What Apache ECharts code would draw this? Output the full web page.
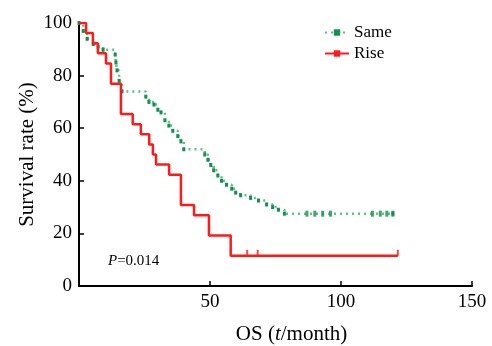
<!DOCTYPE html>
<html>
<head>
<meta charset="utf-8">
<script src="https://cdn.jsdelivr.net/npm/echarts@6/dist/echarts.min.js"></script>
<style>html,body{margin:0;padding:0;background:#fff}#c{width:492px;height:346px}</style>
</head>
<body>
<div id="c"></div>
<script>
// Kaplan-Meier step points: [time (months), survival (%)]
var sameTimes = [0, 1.6, 3.1, 5.4, 7.3, 9.2, 13.8, 14.1, 14.5, 15.3, 16.4, 25.5, 26.7, 28.6, 30.1, 31.3, 32.8, 34.3, 35.8, 37.7, 38.9, 40, 48, 49.2, 50.3, 51.4, 53, 54.4, 56.3, 58.3, 59.8, 61.7, 65.5, 68.5, 71.6, 73.9, 76.1, 78.4, 119.8];
var sameSurv  = [100, 97, 94, 92, 91, 89.8, 88, 85, 82, 78, 74, 72, 70, 69, 67, 66, 63, 61, 59, 57, 55, 52, 50, 48, 46, 44, 42, 40, 38.5, 37, 35.5, 34.5, 33.5, 32.5, 31, 30, 29, 27.5, 27.5];
var sameCensorTimes = [87, 90, 93, 96, 112, 115, 117.5, 119.8];
var sameCensorSurv  = [27.5, 27.5, 27.5, 27.5, 27.5, 27.5, 27.5, 27.5];

var riseTimes = [0, 2.7, 5.3, 7.2, 10.3, 12.2, 16, 20.5, 23.6, 26.8, 28.2, 29.4, 34.4, 38.9, 43.9, 49.6, 57.9, 121.7];
var riseSurv  = [100, 96.2, 92.3, 88.5, 84.6, 76.9, 65.4, 61.5, 57.7, 53.8, 50, 46.2, 42.3, 30.8, 26.9, 19.2, 11.5, 11.5];
var riseCensorTimes = [64.2, 68.2, 121.7];
var riseCensorSurv  = [11.5, 11.5, 11.5];

var xTicks = [0, 50, 100, 150];
var yTicks = [0, 20, 40, 60, 80, 100];
var seriesNames = ['Same', 'Rise'];
var pText = '0.014';

function zip(a, b) { return a.map(function (v, i) { return [v, b[i]]; }); }

var FONT = 'Liberation Serif';
var chart = echarts.init(document.getElementById('c'), null, {renderer: 'canvas'});
chart.setOption({
  animation: false,
  backgroundColor: '#fff',
  textStyle: {fontFamily: FONT, color: '#000'},
  grid: {left: 79, right: 20, top: 23, bottom: 60, outerBoundsMode: 'none', containLabel: false},
  legend: {
    orient: 'vertical', left: 319, top: 19, itemWidth: 24, itemHeight: 8, itemGap: 4,
    data: seriesNames,
    textStyle: {fontFamily: FONT, fontSize: 17, color: '#000'}
  },
  xAxis: {
    type: 'value', min: xTicks[0], max: xTicks[xTicks.length - 1], interval: 50,
    name: 'OS ({i|t}/month)', nameLocation: 'middle', nameGap: 38, nameMoveOverlap: false,
    nameTextStyle: {fontFamily: FONT, fontSize: 21, color: '#000', padding: [0, 0, 0, 32],
      rich: {i: {fontFamily: FONT, fontStyle: 'italic', fontSize: 21, color: '#000'}}},
    axisLine: {lineStyle: {color: '#000', width: 2}},
    axisTick: {inside: true, length: 5, lineStyle: {color: '#000', width: 1.5}},
    axisLabel: {margin: 7, fontFamily: FONT, fontSize: 19, color: '#000',
      formatter: function (v) { return v === 0 ? '' : String(v); }},
    splitLine: {show: false}
  },
  yAxis: {
    type: 'value', min: yTicks[0], max: yTicks[yTicks.length - 1], interval: 20,
    name: 'Survival rate (%)', nameLocation: 'middle', nameGap: 41, nameMoveOverlap: false,
    nameTextStyle: {fontFamily: FONT, fontSize: 21, color: '#000'},
    axisLine: {show: true, lineStyle: {color: '#000', width: 2}},
    axisTick: {show: true, inside: true, length: 5, lineStyle: {color: '#000', width: 1.5}},
    axisLabel: {margin: 7, fontFamily: FONT, fontSize: 19, color: '#000'},
    splitLine: {show: false}
  },
  series: [
    {
      name: seriesNames[0], type: 'line', step: 'end', data: zip(sameTimes, sameSurv),
      symbol: 'rect', symbolSize: [3, 4], showSymbol: true, showAllSymbol: true,
      itemStyle: {color: '#139050'},
      lineStyle: {color: '#5cbf89', width: 2.5, type: [2, 4]},
      z: 3
    },
    {
      name: seriesNames[1], type: 'line', step: 'end', data: zip(riseTimes, riseSurv),
      symbol: 'rect', symbolSize: [2, 6], showSymbol: false,
      itemStyle: {color: '#ff1a1a'},
      lineStyle: {color: '#ff1a1a', width: 2.5},
      z: 4
    },
    {
      name: 'sameCensor', type: 'scatter', data: zip(sameCensorTimes, sameCensorSurv),
      symbol: 'rect', symbolSize: [3, 6], itemStyle: {color: '#139050'}, z: 5
    },
    {
      name: 'riseCensor', type: 'scatter', data: zip(riseCensorTimes, riseCensorSurv),
      symbol: 'rect', symbolSize: [2, 6], symbolOffset: [0, -3], itemStyle: {color: '#ff1a1a'}, z: 5
    }
  ],
  graphic: [{
    type: 'text', left: 108, top: 254,
    style: {
      text: '{i|P}=' + pText,
      font: '15px ' + FONT, fill: '#000',
      rich: {i: {fontFamily: FONT, fontStyle: 'italic', fontSize: 15, fill: '#000'}}
    }
  }]
});
</script>
</body>
</html>
